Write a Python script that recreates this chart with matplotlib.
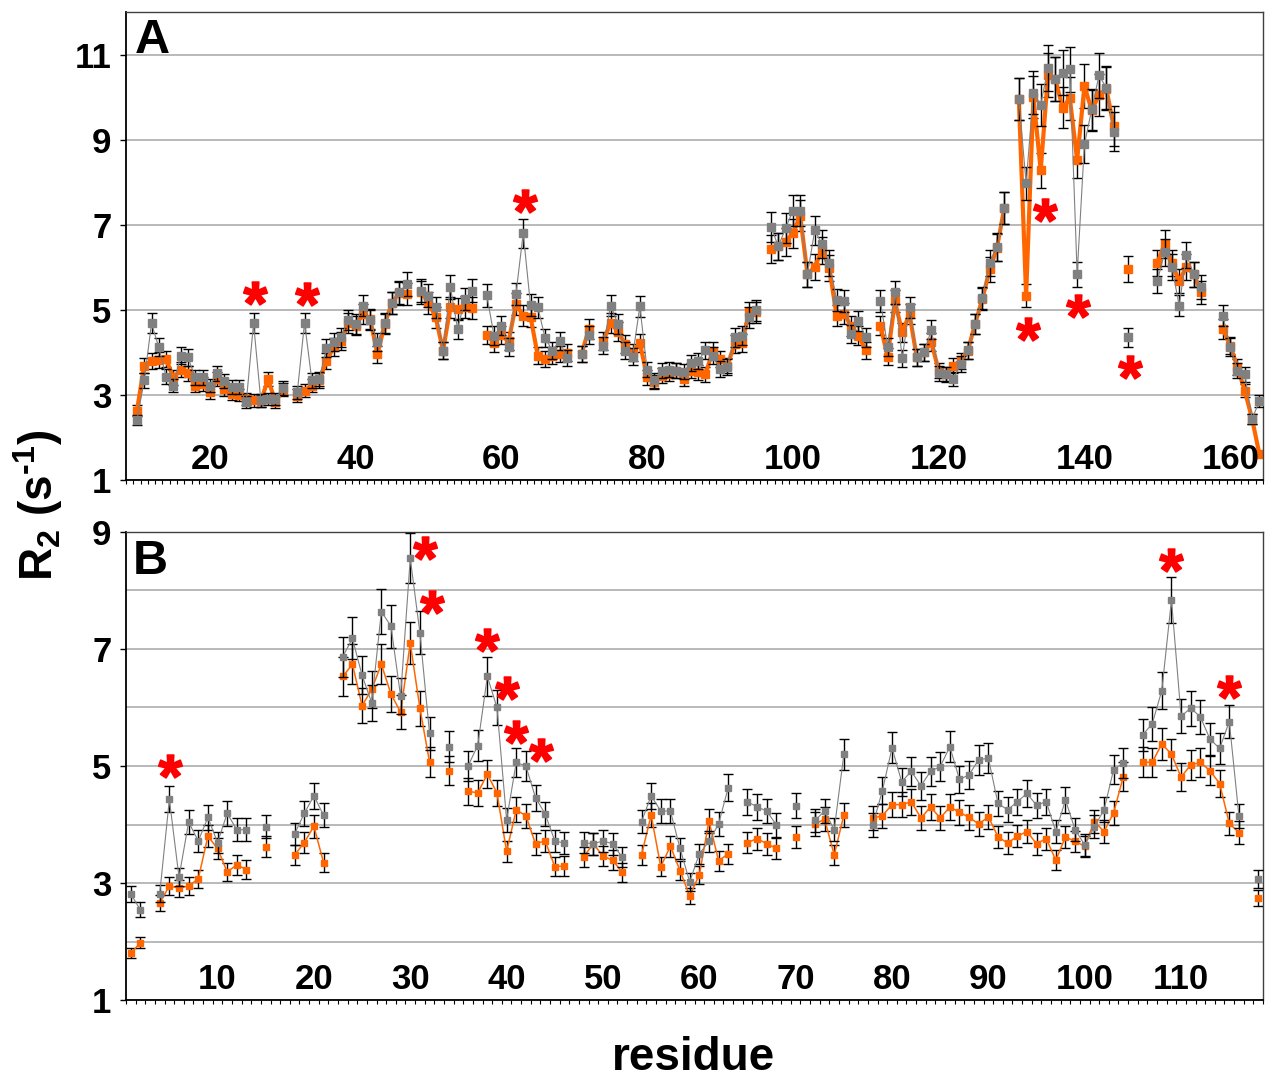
import numpy as np
import matplotlib
matplotlib.use('Agg')
import matplotlib.pyplot as plt
import matplotlib.transforms as mtransforms
from matplotlib.path import Path
from matplotlib.textpath import TextPath
from matplotlib.font_manager import FontProperties

nan = np.nan

# ---- panel A : residues 10-164 ----
res_a = np.arange(10, 165)
r2_a_gray = [
    2.41, 3.34, 4.68, 4.12, 3.43, 3.22, 3.92, 3.88, 3.41, 3.41,   # 10-19
    3.22, 3.51, 3.32, 3.18, 3.18, 2.83, 4.68, 2.87, 2.90, 2.90,   # 20-29
    3.16, nan, 3.06, 4.70, 3.34, 3.37, 4.10, 4.24, 4.35, 4.76,    # 30-39
    4.67, 5.10, 4.76, 4.24, 4.68, 5.15, 5.41, 5.60, nan, 5.45,    # 40-49
    5.33, 5.06, 4.04, 5.54, 4.55, 5.25, 5.45, nan, 5.34, 4.39,    # 50-59
    4.63, 4.13, 5.37, 6.80, 5.11, 5.06, 4.34, 4.04, 4.27, 3.87,   # 60-69
    nan, 3.96, 4.41, nan, 4.16, 5.10, 4.67, 4.04, 3.90, 5.08,     # 70-79
    3.59, 3.34, 3.57, 3.59, 3.57, 3.55, 3.74, 3.80, 4.05, 3.92,   # 80-89
    3.61, 3.66, 4.35, 4.39, 4.82, 4.99, nan, 6.95, 6.49, 6.92,    # 90-99
    7.33, 7.33, 5.84, 6.87, 6.54, 6.11, 5.23, 5.20, 4.43, 4.74,   # 100-109
    4.35, nan, 5.21, 4.13, 5.41, 3.86, 5.06, 3.88, 4.00, 4.53,    # 110-119
    3.51, 3.48, 3.37, 3.72, 4.05, 4.67, 5.28, 6.11, 6.48, 7.39,   # 120-129
    nan, 9.95, 7.97, 10.10, 9.82, 10.68, 10.42, 10.57, 10.65, 5.84,  # 130-139
    8.89, 9.71, 10.51, 10.22, 9.19, nan, 4.35, nan, nan, nan,     # 140-149
    5.67, 6.35, 6.01, 5.10, 6.29, 5.84, 5.54, nan, nan, 4.86,     # 150-159
    4.13, 3.57, 3.48, 2.44, 2.85,                                 # 160-164
]
r2_a_orange = [
    2.63, 3.69, 3.80, 3.82, 3.84, 3.41, 3.59, 3.51, 3.22, 3.26,   # 10-19
    3.06, 3.37, 3.14, 3.02, 3.00, 2.90, 2.87, 2.85, 3.37, 2.83,   # 20-29
    3.12, nan, 2.98, 3.10, 3.22, 3.34, 3.80, 4.12, 4.27, 4.70,    # 30-39
    4.63, 4.90, 4.78, 3.95, 4.67, 5.17, 5.39, 5.37, nan, 5.41,    # 40-49
    5.17, 4.82, 4.04, 5.06, 5.02, 5.07, 5.04, nan, 4.41, 4.23,    # 50-59
    4.41, 4.26, 5.14, 4.86, 4.84, 3.92, 3.84, 3.92, 3.96, 3.99,   # 60-69
    nan, 3.96, 4.55, nan, 4.27, 4.70, 4.49, 4.19, 3.99, 4.23,     # 70-79
    3.41, 3.30, 3.45, 3.49, 3.57, 3.37, 3.57, 3.53, 3.48, 4.04,   # 80-89
    3.84, 3.69, 4.19, 4.23, 4.94, 4.94, nan, 6.43, 6.49, 6.60,    # 90-99
    6.80, 7.21, 5.84, 6.01, 6.40, 5.98, 4.86, 4.91, 4.62, 4.39,   # 100-109
    4.05, nan, 4.63, 3.90, 5.20, 4.47, 4.90, 3.88, 4.00, 4.24,    # 110-119
    3.57, 3.49, 3.69, 3.80, 4.04, 4.67, 5.26, 5.95, 6.46, 7.39,   # 120-129
    nan, 9.95, 5.33, 10.00, 8.28, 10.52, 10.42, 9.75, 9.97, 8.52,  # 130-139
    10.26, 9.69, 10.05, 10.20, 9.32, nan, 5.96, nan, nan, nan,    # 140-149
    6.10, 6.55, 6.09, 5.68, 6.01, 5.84, 5.41, nan, nan, 4.55,     # 150-159
    4.16, 3.65, 3.10, 2.44, 1.61,                                 # 160-164
]

# ---- panel B : residues 1-118 ----
res_b = np.arange(1, 119)
r2_b_gray = [
    2.81, 2.54, nan, 2.82, 4.43, 3.10, 4.04, 3.72, 4.12, 3.69,    # 1-10
    4.19, 3.91, 3.91, nan, 3.96, nan, nan, 3.84, 4.19, 4.49,      # 11-20
    4.16, nan, 6.87, 7.18, 6.55, 6.08, 7.64, 7.39, 6.19, 8.55,    # 21-30
    7.28, 5.56, nan, 5.33, nan, 5.00, 5.35, 6.53, 6.00, 4.08,     # 31-40
    5.06, 5.00, 4.46, 4.18, 3.72, 3.68, nan, 3.69, 3.67, 3.72,    # 41-50
    3.67, 3.44, nan, 4.05, 4.49, 4.23, 4.23, 3.59, 3.02, 3.50,    # 51-60
    3.71, 4.01, 4.63, nan, 4.39, 4.30, 4.23, 3.99, nan, 4.32,     # 61-70
    nan, 4.07, 4.23, 3.91, 5.20, nan, nan, 3.99, 4.58, 5.31,      # 71-80
    4.73, 4.91, 4.66, 4.91, 4.99, 5.33, 4.77, 4.85, 5.11, 5.13,   # 81-90
    4.36, 4.25, 4.39, 4.53, 4.33, 4.39, 3.88, 4.42, 3.91, 3.65,   # 91-100
    3.96, 4.25, 4.94, 5.05, nan, 5.53, 5.72, 6.29, 7.84, 5.85,    # 101-110
    5.99, 5.84, 5.46, 5.30, 5.76, 4.15, nan, 3.07,                # 111-118
]
r2_b_orange = [
    1.80, 1.98, nan, 2.66, 2.95, 2.91, 2.95, 3.07, 3.80, 3.59,    # 1-10
    3.19, 3.31, 3.23, nan, 3.62, nan, nan, 3.48, 3.69, 3.97,      # 11-20
    3.35, nan, 6.53, 6.74, 6.03, 6.31, 6.74, 6.23, 5.92, 7.10,    # 21-30
    5.99, 5.07, nan, 4.92, nan, 4.57, 4.54, 4.86, 4.54, 3.54,     # 31-40
    4.25, 4.15, 3.67, 3.72, 3.28, 3.29, nan, 3.45, 3.67, 3.46,    # 41-50
    3.39, 3.18, nan, 3.48, 4.16, 3.28, 3.63, 3.21, 2.78, 3.14,    # 51-60
    4.06, 3.38, 3.50, nan, 3.69, 3.76, 3.67, 3.59, nan, 3.78,     # 61-70
    nan, 4.01, 4.09, 3.48, 4.16, nan, nan, 4.11, 4.15, 4.34,      # 71-80
    4.34, 4.39, 4.11, 4.30, 4.11, 4.30, 4.21, 4.12, 4.01, 4.13,   # 81-90
    3.79, 3.68, 3.80, 3.88, 3.67, 3.76, 3.39, 3.79, 3.71, 3.63,   # 91-100
    4.05, 3.88, 4.20, 4.82, nan, 5.07, 5.06, 5.38, 5.20, 4.81,    # 101-110
    5.02, 5.06, 4.92, 4.70, 4.02, 3.86, nan, 2.75,                # 111-118
]

# error bars are 5 % of R2
REL_ERR = 0.05

# residues flagged with an asterisk, and which trace the asterisk belongs to
star_res_a = [26, 33, 63, 132, 134, 139, 146]
star_trace_a = ['gray', 'gray', 'gray', 'orange', 'orange', 'gray', 'gray']
star_res_b = [5, 30, 31, 38, 39, 41, 42, 109, 115]
star_trace_b = ['gray'] * 9

ORANGE = '#FF6600'
GRAY = '#808080'

plt.rcParams['font.family'] = ['Liberation Sans', 'DejaVu Sans']
plt.rcParams['font.weight'] = 'bold'
plt.rcParams['mathtext.fontset'] = 'custom'
plt.rcParams['mathtext.rm'] = 'Liberation Sans:bold'
plt.rcParams['mathtext.it'] = 'Liberation Sans:bold'
plt.rcParams['mathtext.bf'] = 'Liberation Sans:bold'

# bold asterisk glyph, centred on its own outline so it can be used as a marker
tp = TextPath((0, 0), '*', size=10, prop=FontProperties(family='Liberation Sans', weight='bold'))
codes = tp.codes
v = tp.vertices.copy()
real = codes != Path.CLOSEPOLY
centre = (v[real].min(0) + v[real].max(0)) / 2
v = v - centre
v[~real] = 0.0
star_path = Path(v, codes)

W, H = 1266, 1078
fig = plt.figure(figsize=(W / 100, H / 100), dpi=100)
axA = fig.add_axes([126 / W, 598 / H, 1137 / W, 468 / H])
axB = fig.add_axes([126 / W, 78 / H, 1137 / W, 468 / H])


def draw_series(ax, res, vals, color, lw, ms, z):
    vals = np.array(vals, dtype=float)
    ax.errorbar(res, vals, yerr=REL_ERR * vals, fmt='-s', color=color, mec=color, mfc=color,
                ms=ms, lw=lw, ecolor='black', elinewidth=1.0, capsize=3.5, capthick=1.0, zorder=z)


def style_axes(ax, xlim, ylim, yticks, ygrid, xlabels):
    ax.set_xlim(*xlim)
    ax.set_ylim(*ylim)
    ax.set_axisbelow(True)
    ax.set_yticks(yticks)
    ax.set_yticklabels([str(t) for t in yticks], fontsize=25, fontweight='bold')
    ax.set_yticks(ygrid, minor=True)
    ax.yaxis.grid(True, which='both', color='#A6A6A6', lw=1.1)
    ax.tick_params(axis='y', which='major', direction='out', length=4.5, width=1, pad=6)
    ax.tick_params(axis='y', which='minor', length=0)
    ax.set_xticks([])
    ax.set_xticks(np.arange(xlim[0], xlim[1] + 0.01, 1), minor=True)
    ax.tick_params(axis='x', which='minor', direction='out', length=3, width=0.8)
    for sp in ['left', 'bottom']:
        ax.spines[sp].set_color('black')
        ax.spines[sp].set_linewidth(1.3)
    for sp in ['top', 'right']:
        ax.spines[sp].set_color('#404040')
        ax.spines[sp].set_linewidth(1.0)
    # residue numbers sit inside the plot, just above the axis
    tr = mtransforms.blended_transform_factory(ax.transData, ax.transAxes)
    for lab in xlabels:
        ax.text(lab, 0.023, str(lab), transform=tr, ha='center', va='baseline',
                fontsize=25, fontweight='bold')


def draw_stars(ax, res, gray, orange, star_res, star_trace, offsets):
    gray = dict(zip(res, gray))
    orange = dict(zip(res, orange))
    for r, t, (dx, dy) in zip(star_res, star_trace, offsets):
        y = gray[r] if t == 'gray' else orange[r]
        tr = mtransforms.offset_copy(ax.transData, fig=fig, x=dx, y=dy, units='dots')
        ax.plot([r], [y], ls='none', marker=star_path, ms=17, color='red', mec='red', mew=1.2,
                transform=tr, zorder=6, clip_on=False)


# panel A
draw_series(axA, res_a, r2_a_orange, ORANGE, 3.0, 6.3, 2)
draw_series(axA, res_a, r2_a_gray, GRAY, 0.8, 6.3, 3)
style_axes(axA, (8.5, 164.5), (1, 12), [1, 3, 5, 7, 9, 11], [], range(20, 161, 20))
star_off_a = [(1, 30), (2, 29), (2, 32), (2, -33), (4, -40), (1, -32), (2, -30)]
draw_stars(axA, res_a, r2_a_gray, r2_a_orange, star_res_a, star_trace_a, star_off_a)
axA.text(0.008, 0.912, 'A', transform=axA.transAxes, fontsize=35, fontweight='bold',
         ha='left', va='baseline')

# panel B
draw_series(axB, res_b, r2_b_orange, ORANGE, 1.1, 5.0, 2)
draw_series(axB, res_b, r2_b_gray, GRAY, 0.8, 5.0, 3)
style_axes(axB, (0.5, 118.5), (1, 9), [1, 3, 5, 7, 9], [2, 4, 6, 8], range(10, 111, 10))
star_off_b = [(1, 33), (15, 10), (12, 31), (0, 36), (10, 19), (0, 30), (15, 16), (0, 40), (0, 35)]
draw_stars(axB, res_b, r2_b_gray, r2_b_orange, star_res_b, star_trace_b, star_off_b)
axB.text(0.006, 0.910, 'B', transform=axB.transAxes, fontsize=35, fontweight='bold',
         ha='left', va='baseline')

fig.text(38 / W, 1 - 505 / H, 'R$_2$ (s$^{\u2010 1}$)', rotation=90, ha='center', va='center',
         fontsize=33, fontweight='bold')
fig.text(693 / W, 8 / H, 'residue', ha='center', va='baseline', fontsize=33, fontweight='bold')

fig.savefig('out.png', dpi=100)
